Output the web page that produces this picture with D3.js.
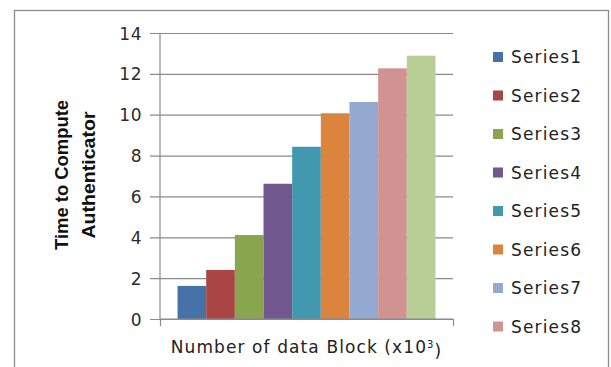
<!DOCTYPE html>
<html>
<head>
<meta charset="utf-8">
<script src="https://cdn.jsdelivr.net/npm/d3@7"></script>
<style>
  html, body { margin: 0; padding: 0; background: #fff; }
  svg { display: block; }
</style>
</head>
<body>
<script>
// Series names, values and colours for the single category group
const seriesNames = ["Series1","Series2","Series3","Series4","Series5","Series6","Series7","Series8","Series9"];
const seriesValues = [1.62, 2.40, 4.11, 6.62, 8.43, 10.07, 10.62, 12.27, 12.89];
const seriesColors = ["#4672A8","#A94644","#89A54E","#71588F","#4198AF","#DB843D","#93A9CF","#D19392","#B9CD96"];
const legendNames = seriesNames.slice(0, 8);
const yTicks = [0, 2, 4, 6, 8, 10, 12, 14];
const categories = ["Number of data Block"];

const W = 611, H = 367;
const plot = { left: 160, right: 453, top: 33, bottom: 319 };

const svg = d3.select("body").append("svg").attr("width", W).attr("height", H);

// outer chart frame
svg.append("rect")
  .attr("x", 14.5).attr("y", 10.5)
  .attr("width", 594).attr("height", 370)
  .attr("fill", "#fff").attr("stroke", "#8c8c8c").attr("stroke-width", 1.3);

const y = d3.scaleLinear().domain([0, 14]).range([plot.bottom, plot.top]);
const x0 = d3.scaleBand().domain(categories).range([plot.left, plot.right]).paddingInner(0).paddingOuter(0.068);
const x1 = d3.scaleBand().domain(seriesNames).range([0, x0.bandwidth()]).padding(0);

// horizontal gridlines with tick stubs left of the axis
const yAxis = d3.axisLeft(y).tickValues(yTicks).tickSize(-(plot.right - plot.left) - 10).tickFormat(d3.format("d"));
const gy = svg.append("g").attr("transform", `translate(${plot.right},0)`).call(yAxis);
gy.select(".domain").remove();
gy.selectAll(".tick line").attr("stroke", "#8a8a8a").attr("stroke-width", 1.2).attr("x1", -(plot.right - plot.left) - 10).attr("x2", 0);
gy.selectAll(".tick text")
  .attr("x", -(plot.right - plot.left) - 18)
  .attr("fill", "#2b2b2b")
  .style("font-family", "'DejaVu Sans', sans-serif")
  .style("font-size", "17px")
  .style("letter-spacing", "0.5px")
  .attr("dy", "0.36em");

// bars
const group = svg.append("g").selectAll("g").data(categories).join("g")
  .attr("transform", d => `translate(${x0(d)},0)`);
group.selectAll("rect")
  .data(seriesNames.map((s, i) => ({ s, v: seriesValues[i], c: seriesColors[i] })))
  .join("rect")
  .attr("x", d => x1(d.s))
  .attr("width", x1.bandwidth())
  .attr("y", d => y(d.v))
  .attr("height", d => y(0) - y(d.v))
  .attr("fill", d => d.c);

// y axis line
svg.append("line")
  .attr("x1", plot.left).attr("x2", plot.left)
  .attr("y1", plot.top).attr("y2", plot.bottom)
  .attr("stroke", "#8a8a8a").attr("stroke-width", 1.2);

// x axis with end ticks
const xAxis = d3.axisBottom(d3.scaleLinear().domain([0, 1]).range([plot.left, plot.right]))
  .tickValues([0, 1]).tickSize(7).tickFormat("");
const gx = svg.append("g").attr("transform", `translate(0,${plot.bottom})`).call(xAxis);
gx.select(".domain").attr("stroke", "#8a8a8a").attr("stroke-width", 1.2).attr("d", `M${plot.left},0H${plot.right}`);
gx.selectAll(".tick line").attr("stroke", "#8a8a8a").attr("stroke-width", 1.2);

// axis titles
const xt = svg.append("text")
  .attr("x", 306.5).attr("y", 353)
  .attr("text-anchor", "middle")
  .attr("fill", "#222")
  .style("font-family", "'DejaVu Sans', sans-serif")
  .style("font-size", "17px")
  .style("letter-spacing", "1.1px");
xt.append("tspan").text("Number of data Block (x10");
xt.append("tspan").attr("dy", "-0.5em").style("font-size", "10px").text("3");
xt.append("tspan").attr("dy", "0.5em").text(")");

const yTitle = ["Time to Compute", "Authenticator"];
svg.append("g").selectAll("text").data(yTitle).join("text")
  .attr("transform", (d, i) => `translate(${68 + i * 27},175) rotate(-90)`)
  .attr("text-anchor", "middle")
  .attr("fill", "#111")
  .style("font-family", "'Liberation Sans', Arial, sans-serif")
  .style("font-weight", "bold")
  .style("font-size", "18px")
  .attr("textLength", (d, i) => i === 0 ? 150 : 127)
  .attr("lengthAdjust", "spacingAndGlyphs")
  .text(d => d);

// legend
const lg = svg.append("g").selectAll("g").data(legendNames).join("g")
  .attr("transform", (d, i) => `translate(493,${57 + i * 38.5})`);
lg.append("rect")
  .attr("x", 0).attr("y", -5).attr("width", 10).attr("height", 10)
  .attr("fill", (d, i) => seriesColors[i]);
lg.append("text")
  .attr("x", 18).attr("y", 0).attr("dy", "0.36em")
  .attr("fill", "#222")
  .style("font-family", "'DejaVu Sans', sans-serif")
  .style("font-size", "17px")
  .attr("textLength", 70)
  .attr("lengthAdjust", "spacing")
  .text(d => d);
</script>
</body>
</html>
